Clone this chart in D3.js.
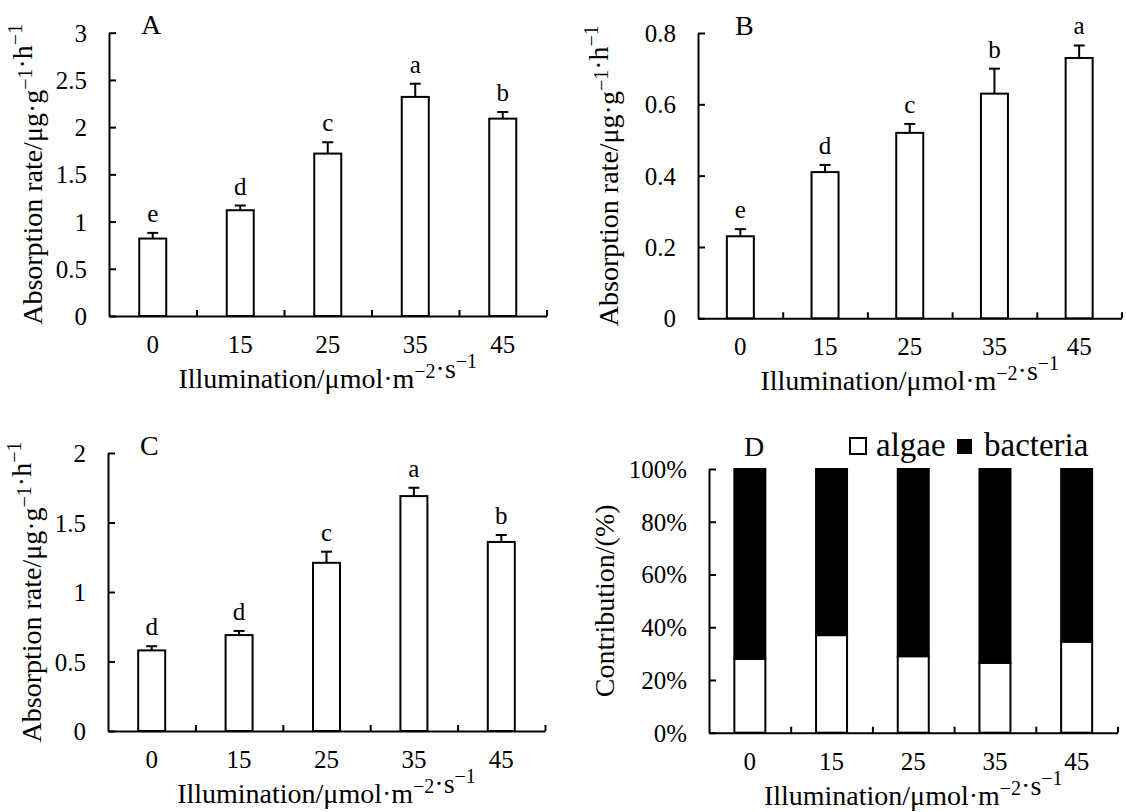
<!DOCTYPE html>
<html>
<head>
<meta charset="utf-8">
<script src="https://cdn.jsdelivr.net/npm/d3@7"></script>
<style>
  html, body { margin: 0; padding: 0; background: #fff; }
  svg { display: block; }
  svg text { font-family: "Liberation Serif", "Times New Roman", serif; }
</style>
</head>
<body>
<script>
// ---------------- data ----------------
const categories = ["0", "15", "25", "35", "45"];

const rateA    = [0.82, 1.12, 1.72, 2.32, 2.09];
const errA     = [0.06, 0.05, 0.12, 0.14, 0.07];
const lettersA = ["e", "d", "c", "a", "b"];
const ticksA   = [0, 0.5, 1, 1.5, 2, 2.5, 3];

const rateB    = [0.23, 0.41, 0.52, 0.63, 0.73];
const errB     = [0.02, 0.02, 0.025, 0.07, 0.035];
const lettersB = ["e", "d", "c", "b", "a"];
const ticksB   = [0, 0.2, 0.4, 0.6, 0.8];

const rateC    = [0.58, 0.69, 1.21, 1.69, 1.36];
const errC     = [0.03, 0.03, 0.08, 0.06, 0.05];
const lettersC = ["d", "d", "c", "a", "b"];
const ticksC   = [0, 0.5, 1, 1.5, 2];

const algaePct    = [28, 37, 29, 26.5, 34.5];
const bacteriaPct = [72, 63, 71, 73.5, 65.5];
const ticksD      = [0, 20, 40, 60, 80, 100];
const seriesD     = ["algae", "bacteria"];

// ---------------- drawing ----------------
const FONT = "Liberation Serif";
const svg = d3.select("body").append("svg")
  .attr("width", 1126).attr("height", 812);
svg.append("rect").attr("width", 1126).attr("height", 812).attr("fill", "#fff");

function richText(sel, parts, size) {
  const supSize = Math.round(size * 0.72);
  const shift = Math.round(size * 0.34);
  parts.forEach(p => {
    if (p.sup) {
      sel.append("tspan").attr("font-size", supSize).attr("dy", -shift).text(p.t);
      sel.append("tspan").attr("font-size", size).attr("dy", shift).text("");
    } else {
      sel.append("tspan").attr("font-size", size).text(p.t);
    }
  });
}

const xTitleParts = [{t: "Illumination/μmol·m"}, {t: "−2", sup: true}, {t: "·s"}, {t: "−1", sup: true}];
const yTitleParts = [{t: "Absorption rate/μg·g"}, {t: "−1", sup: true}, {t: "·h"}, {t: "−1", sup: true}];

const TICK_FS = 25, TITLE_FS = 28;

function frame(cfg) {
  const g = svg.append("g");
  const x = d3.scaleBand().domain(categories).range([cfg.x0, cfg.x1]);
  const xb = d3.scaleLinear().domain([0, categories.length]).range([cfg.x0, cfg.x1]);
  const y = d3.scaleLinear().domain([0, cfg.ymax]).range([cfg.y0, cfg.y1]);

  // x axis: line + inward boundary ticks
  const xa = g.append("g").attr("transform", `translate(0,${cfg.y0})`)
    .call(d3.axisBottom(xb).tickValues(d3.range(1, categories.length + 1))
      .tickSizeInner(-6).tickSizeOuter(0).tickFormat(""));
  xa.selectAll("path,line").attr("stroke", "#000").attr("stroke-width", 2);

  // x tick labels via band scale
  const xl = g.append("g").attr("transform", `translate(0,${cfg.y0})`)
    .call(d3.axisBottom(x).tickSize(0).tickPadding(0));
  xl.attr("font-family", FONT);
  xl.select(".domain").remove();
  xl.selectAll("text").attr("y", 37).attr("dy", null)
    .attr("font-size", TICK_FS).attr("fill", "#000");

  // y axis with inward ticks
  const ya = g.append("g").attr("transform", `translate(${cfg.x0},0)`)
    .call(d3.axisLeft(y).tickValues(cfg.ticks).tickSizeInner(-7).tickSizeOuter(0)
      .tickPadding(22).tickFormat(cfg.fmt));
  ya.attr("font-family", FONT);
  ya.selectAll("path,line").attr("stroke", "#000").attr("stroke-width", 2);
  ya.selectAll("text").attr("font-size", TICK_FS)
    .attr("fill", "#000").attr("dy", "0.34em");

  // x title
  const xt = g.append("text").attr("x", (cfg.x0 + cfg.x1) / 2).attr("y", cfg.y0 + 72)
    .attr("text-anchor", "middle").attr("fill", "#000");
  richText(xt, xTitleParts, TITLE_FS);

  // y title
  const cy = (cfg.y0 + cfg.y1) / 2;
  const yt = g.append("text")
    .attr("transform", `translate(${cfg.titleX},${cy}) rotate(-90)`)
    .attr("text-anchor", "middle").attr("fill", "#000");
  richText(yt, cfg.yTitle, TITLE_FS);

  // panel letter
  g.append("text").attr("x", cfg.lx).attr("y", cfg.ly)
    .attr("font-size", 28).attr("fill", "#000").text(cfg.label);

  return {g, x, y};
}

function ratePanel(cfg, rates, errs, letters) {
  const {g, x, y} = frame(cfg);
  const bw = cfg.bw;
  const cx = d => x(d) + x.bandwidth() / 2;
  const data = categories.map((c, i) => ({c, v: rates[i], e: errs[i], l: letters[i]}));

  g.selectAll(".bar").data(data).join("rect")
    .attr("x", d => cx(d.c) - bw / 2).attr("width", bw)
    .attr("y", d => y(d.v)).attr("height", d => y(0) - y(d.v))
    .attr("fill", "#fff").attr("stroke", "#000").attr("stroke-width", 2);

  g.selectAll(".err").data(data).join("line")
    .attr("x1", d => cx(d.c)).attr("x2", d => cx(d.c))
    .attr("y1", d => y(d.v)).attr("y2", d => y(d.v + d.e))
    .attr("stroke", "#000").attr("stroke-width", 2);
  g.selectAll(".cap").data(data).join("line")
    .attr("x1", d => cx(d.c) - 5.5).attr("x2", d => cx(d.c) + 5.5)
    .attr("y1", d => y(d.v + d.e)).attr("y2", d => y(d.v + d.e))
    .attr("stroke", "#000").attr("stroke-width", 2);

  g.selectAll(".lab").data(data).join("text")
    .attr("x", d => cx(d.c)).attr("y", d => y(d.v + d.e) - 11)
    .attr("text-anchor", "middle").attr("font-size", 25).attr("fill", "#000")
    .text(d => d.l);
}

const numFmt = d => String(d);

ratePanel({x0: 109, x1: 546.5, y0: 316, y1: 32.7, ymax: 3, ticks: ticksA, fmt: numFmt,
  titleX: 42, yTitle: yTitleParts, label: "A", lx: 141, ly: 34, bw: 27}, rateA, errA, lettersA);

ratePanel({x0: 698, x1: 1121.5, y0: 318.3, y1: 33, ymax: 0.8, ticks: ticksB, fmt: numFmt,
  titleX: 618, yTitle: yTitleParts, label: "B", lx: 735, ly: 35, bw: 27}, rateB, errB, lettersB);

ratePanel({x0: 108, x1: 545, y0: 731, y1: 453, ymax: 2, ticks: ticksC, fmt: numFmt,
  titleX: 41, yTitle: yTitleParts, label: "C", lx: 140, ly: 455, bw: 27}, rateC, errC, lettersC);

// ---- panel D: stacked percentages ----
(function () {
  const cfg = {x0: 709, x1: 1117.5, y0: 732.7, y1: 469, ymax: 100, ticks: ticksD,
    fmt: d => d + "%", titleX: 614, yTitle: [{t: "Contribution/(%)"}], label: "D", lx: 744, ly: 456};
  const {g, x, y} = frame(cfg);
  const bw = 31;
  const rows = categories.map((c, i) => ({c, algae: algaePct[i], bacteria: bacteriaPct[i]}));
  const stack = d3.stack().keys(seriesD)(rows);
  const fills = {algae: "#fff", bacteria: "#000"};
  stack.forEach(layer => {
    g.selectAll(null).data(layer).join("rect")
      .attr("x", d => x(d.data.c) + x.bandwidth() / 2 - bw / 2).attr("width", bw)
      .attr("y", d => y(d[1])).attr("height", d => y(d[0]) - y(d[1]))
      .attr("fill", fills[layer.key]).attr("stroke", "#000").attr("stroke-width", 2);
  });

  // legend
  const lg = g.append("g");
  lg.append("rect").attr("x", 850).attr("y", 438).attr("width", 16).attr("height", 16)
    .attr("fill", "#fff").attr("stroke", "#000").attr("stroke-width", 2);
  lg.append("text").attr("x", 876).attr("y", 456).attr("font-size", 33)
    .attr("fill", "#000").text(seriesD[0]);
  lg.append("rect").attr("x", 957).attr("y", 439).attr("width", 15).attr("height", 15)
    .attr("fill", "#000");
  lg.append("text").attr("x", 984).attr("y", 456).attr("font-size", 33)
    .attr("fill", "#000").text(seriesD[1]);
})();
</script>
</body>
</html>
